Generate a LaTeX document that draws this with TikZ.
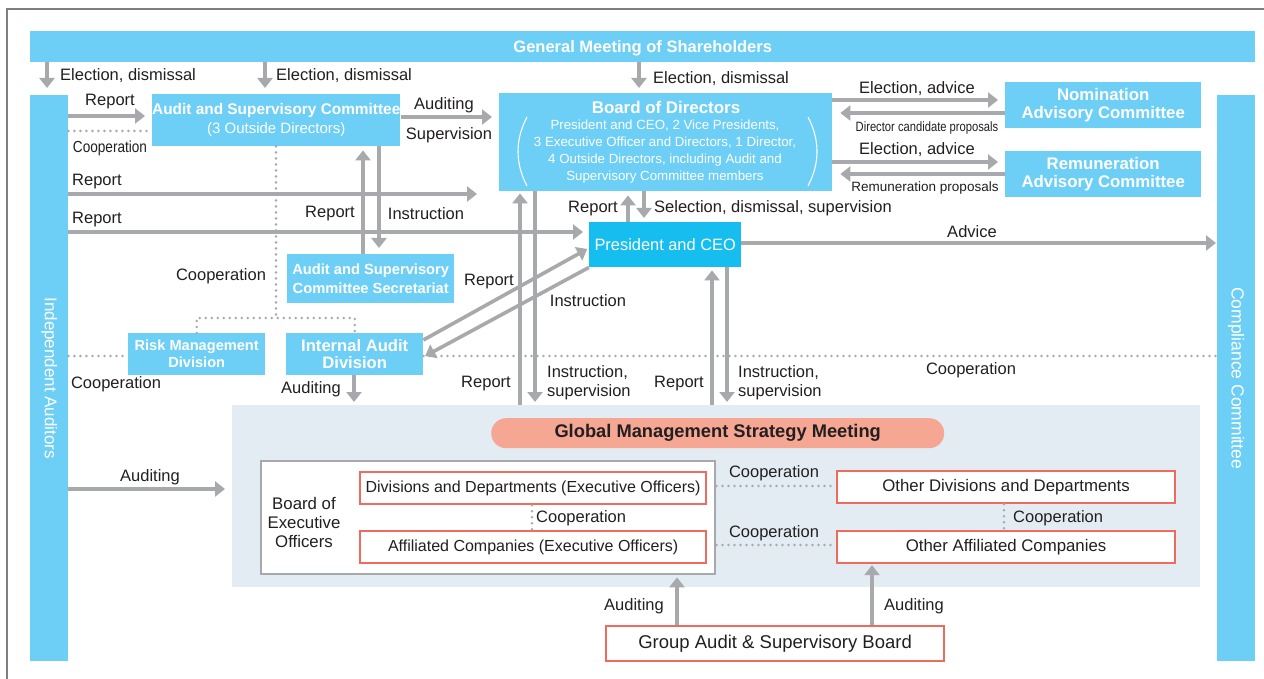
\documentclass[tikz,border=0pt]{standalone}
\usepackage{fontspec}
\setmainfont{Liberation Sans}
\usepackage{graphicx}
\usetikzlibrary{arrows.meta,calc}
\definecolor{cblue}{HTML}{6DCFF6}
\definecolor{cceo}{HTML}{16BEF0}
\definecolor{cgray}{HTML}{A7A9AC}
\definecolor{cbg}{HTML}{E3ECF2}
\definecolor{csalmon}{HTML}{F5A793}
\definecolor{cred}{HTML}{EF6B5E}
\definecolor{ctext}{HTML}{231F20}
\definecolor{cframe}{HTML}{7F7F7F}
\newcommand\fz[2]{\fontsize{#1}{#2}\selectfont}
\begin{document}
\begin{tikzpicture}[x=1pt,y=-1pt,
  box/.style={fill=cblue, text=white, inner sep=0pt, align=center, anchor=north west},
  rbox/.style={draw=cred, line width=2.2pt, fill=white, text=ctext, inner sep=0pt, anchor=north west, font=\fz{16pt}{19pt}},
  lbl/.style={text=ctext, inner sep=0pt, font=\fz{16.5pt}{19pt}, align=center, yshift=-1.5pt},
  arr/.style={draw=cgray, line width=3.6pt, -{Triangle[length=10pt,width=15pt]}},
  dots/.style={draw=cgray, line width=2.8pt, dash pattern=on 0pt off 6pt, line cap=round},
]
\useasboundingbox (0,0) rectangle (1264,679);
\fill[white] (0,0) rectangle (1264,679);
\draw[cframe, line width=1.6pt] (7,700) -- (7,9) -- (1300,9);

% ---------- boxes ----------
\node[box, minimum width=1225, minimum height=31, font=\bfseries\fz{16.5pt}{19pt}, text depth=1pt] (gms) at (30,31) {General Meeting of Shareholders};
\node[box, minimum width=38, minimum height=566] (ia) at (30,95) {};
\node[rotate=-90, text=white, inner sep=0pt, font=\fz{17pt}{19pt}] (iat) at (ia.center) {Independent Auditors};
\node[box, minimum width=38, minimum height=566] (cc) at (1217,95) {};
\node[rotate=-90, text=white, inner sep=0pt, font=\fz{17.5pt}{19pt}] (cct) at (cc.center) {Compliance Committee};

\node[box, minimum width=248, minimum height=52, font=\fz{15pt}{19pt}] (asc) at (152,94) {{\bfseries\fz{15.4pt}{19pt}Audit and Supervisory Committee}\\(3 Outside Directors)};

\node[box, minimum width=333, minimum height=98] (bod) at (499,93) {};
\node[text=white, inner sep=0pt, font=\bfseries\fz{16.9pt}{19pt}] (bodt) at (666,107) {Board of Directors};
\node[text=white, inner sep=0pt, align=center, font=\fz{13.3pt}{17pt}] (bods) at (665,152) {President and CEO, 2 Vice Presidents,\\3 Executive Officer and Directors, 1 Director,\\4 Outside Directors, including Audit and\\Supervisory Committee members};
\draw[white, line width=1.1pt] (527,117) .. controls (515,140) and (515,163) .. (527,186);
\draw[white, line width=1.1pt] (808,117) .. controls (820,140) and (820,163) .. (808,186);

\node[box, minimum width=196, minimum height=46, font=\bfseries\fz{16.8pt}{18pt}] (nom) at (1005,82) {Nomination\\Advisory Committee};
\node[box, minimum width=196, minimum height=46, font=\bfseries\fz{16.8pt}{18pt}] (rem) at (1005,151) {Remuneration\\Advisory Committee};

\node[box, minimum width=167, minimum height=49, font=\bfseries\fz{14.7pt}{19pt}] (sec) at (287,254) {Audit and Supervisory\\Committee Secretariat};
\node[box, minimum width=137, minimum height=42, font=\bfseries\fz{14.6pt}{17pt}] (risk) at (128,333) {Risk Management\\Division};
\node[box, minimum width=137, minimum height=42, font=\bfseries\fz{16.6pt}{17pt}] (iad) at (286,333) {Internal Audit\\Division};
\node[box, fill=cceo, minimum width=152, minimum height=45, font=\fz{16.4pt}{19pt}] (ceo) at (589,222) {President and CEO};

\node[fill=cbg, inner sep=0pt, anchor=north west, minimum width=968, minimum height=182] (gbg) at (232,405) {};
\node[fill=csalmon, rounded corners=15pt, inner sep=0pt, anchor=north west, minimum width=453, minimum height=30, text=ctext, font=\bfseries\fz{18.3pt}{20pt}] (gmsm) at (491,418) {Global Management Strategy Meeting};

\node[draw=cgray, line width=2.4pt, fill=white, inner sep=0pt, anchor=north west, minimum width=454, minimum height=113] (beo) at (260,460) {};
\node[lbl, font=\fz{16.8pt}{19pt}] (beot) at (304,521) {Board of\\Executive\\Officers};
\node[rbox, minimum width=346, minimum height=32] (dd) at (359,471) {Divisions and Departments (Executive Officers)};
\node[rbox, minimum width=346, minimum height=32] (ac) at (359,530) {Affiliated Companies (Executive Officers)};
\node[rbox, minimum width=338, minimum height=32, font=\fz{16.8pt}{19pt}] (odd) at (836,470) {Other Divisions and Departments};
\node[rbox, minimum width=338, minimum height=32, font=\fz{16.8pt}{19pt}] (oac) at (836,530) {Other Affiliated Companies};
\node[rbox, minimum width=338, minimum height=35, font=\fz{18.5pt}{20pt}] (gasb) at (605,625) {Group Audit \& Supervisory Board};

% ---------- connectors ----------
% election
\draw[arr, shorten >=7pt] (gms.south -| 47,0) -- (ia.north -| 47,0);
\draw[arr, shorten >=6pt] (gms.south -| 265,0) -- (asc.north -| 265,0);
\draw[arr, shorten >=5pt] (gms.south -| 639,0) -- (bod.north -| 639,0);
\node[lbl, anchor=west] (e1) at (60,74) {Election, dismissal};
\node[lbl, anchor=west] (e2) at (276,74) {Election, dismissal};
\node[lbl, anchor=west] (e3) at (653,77) {Election, dismissal};

% IA to ASC
\draw[arr, shorten >=7pt] (ia.east |- 0,116) -- (asc.west |- 0,116);
\node[lbl] (r1) at (110,100) {Report};
\draw[dots] (ia.east |- 0,131) -- (asc.west |- 0,131);
\node[lbl, font=\fz{16pt}{19pt}] (c1) at (110,147) {\scalebox{0.85}[1]{Cooperation}};

% ASC to BoD
\draw[arr, shorten >=7pt] (asc.east |- 0,117) -- (bod.west |- 0,117);
\node[lbl] (a1) at (444,104) {Auditing};
\node[lbl] (s1) at (449,134) {Supervision};

% BoD <-> committees
\draw[arr, shorten >=7pt] (bod.east |- 0,100) -- (nom.west |- 0,100);
\draw[arr, shorten >=8pt] (nom.west |- 0,113) -- (bod.east |- 0,113);
\node[lbl] (ea1) at (917,87) {Election, advice};
\node[lbl, font=\fz{13.5pt}{16pt}] (dcp) at (927,127) {\scalebox{0.83}[1]{Director candidate proposals}};
\draw[arr, shorten >=7pt] (bod.east |- 0,162) -- (rem.west |- 0,162);
\draw[arr, shorten >=8pt] (rem.west |- 0,174) -- (bod.east |- 0,174);
\node[lbl] (ea2) at (917,148) {Election, advice};
\node[lbl, font=\fz{13.5pt}{16pt}] (rp) at (925,187) {Remuneration proposals};

% IA long reports
\draw[arr, shorten >=22pt] (ia.east |- 0,194) -- (bod.west |- 0,194);
\node[lbl] (r2) at (97,180) {Report};
\draw[arr, shorten >=6pt] (ia.east |- 0,232) -- (ceo.west |- 0,232);
\node[lbl] (r3) at (97,218) {Report};

% ASC <-> Secretariat
\draw[arr, shorten >=4pt] (sec.north -| 363,0) -- (asc.south -| 363,0);
\draw[arr, shorten >=6pt] (asc.south -| 379,0) -- (sec.north -| 379,0);
\node[lbl] (r4) at (330,212) {Report};
\node[lbl] (i1) at (426,212) {Instruction};

% cooperation tree
\coordinate (cj) at (276,318);
\draw[dots] (asc.south -| cj) -- (cj);
\draw[dots] (risk.north) |- (cj) -| (iad.north);
\node[lbl] (c2) at (221,275) {Cooperation};

% long cooperation line
\draw[dots] (ia.east |- 0,356) -- (risk.west |- 0,356);
\draw[dots] (iad.east |- 0,356) -- (cc.west |- 0,356);
\node[lbl] (c3) at (116,383) {Cooperation};
\node[lbl] (c4) at (971,369) {Cooperation};

% IAD auditing
\draw[arr, shorten >=3pt] (iad.south -| 354,0) -- (gbg.north -| 354,0);
\node[lbl] (a2) at (311,388) {Auditing};

% IAD <-> CEO diagonals
\draw[arr, shorten >=2pt] (iad.east |- 0,340) -- (ceo.west |- 0,248);
\draw[arr, shorten >=2pt] (ceo.south west) -- (iad.east |- 0,357);
\node[lbl] (r5) at (489,280) {Report};
\node[lbl] (i2) at (588,299) {Instruction};

% CEO <-> BoD
\draw[arr, shorten >=4pt] (ceo.north -| 628,0) -- (bod.south -| 628,0);
\draw[arr, shorten >=4pt] (bod.south -| 644,0) -- (ceo.north -| 644,0);
\node[lbl] (r6) at (593,207) {Report};
\node[lbl, anchor=west] (sds) at (654,207) {Selection, dismissal, supervision};

% Advice
\draw[arr, shorten >=1pt] (ceo.east |- 0,243) -- (cc.west |- 0,243);
\node[lbl] (adv) at (972,230) {Advice};

% GMSM <-> BoD
\draw[arr, shorten >=2pt] (gbg.north -| 520,0) -- (bod.south -| 520,0);
\draw[arr, shorten >=3pt] (bod.south -| 535,0) -- (gbg.north -| 535,0);
\node[lbl] (r7) at (486,382) {Report};
\node[lbl, anchor=west, align=left] (is1) at (547,381) {Instruction,\\supervision};

% GMSM <-> CEO
\draw[arr, shorten >=3pt] (gbg.north -| 712,0) -- (ceo.south -| 712,0);
\draw[arr, shorten >=3pt] (ceo.south -| 727,0) -- (gbg.north -| 727,0);
\node[lbl] (r8) at (679,382) {Report};
\node[lbl, anchor=west, align=left] (is2) at (738,381) {Instruction,\\supervision};

% IA auditing
\draw[arr, shorten >=7pt] (ia.east |- 0,489) -- (gbg.west |- 0,489);
\node[lbl] (a3) at (150,476) {Auditing};

% inner cooperation
\draw[dots] (dd.south -| 532,0) -- (ac.north -| 532,0);
\node[lbl, anchor=west] (c5) at (536,517) {Cooperation};
\draw[dots] (odd.south -| 1004,0) -- (oac.north -| 1004,0);
\node[lbl, anchor=west] (c6) at (1013,517) {Cooperation};
\draw[dots] (beo.east |- 0,486) -- (odd.west |- 0,486);
\draw[dots] (beo.east |- 0,545) -- (oac.west |- 0,545);
\node[lbl] (c7) at (774,472) {Cooperation};
\node[lbl] (c8) at (774,532) {Cooperation};

% group audit
\draw[arr, shorten >=2pt] (gasb.north -| 677,0) -- (beo.south -| 677,0);
\draw[arr, shorten >=1pt] (gasb.north -| 872,0) -- (oac.south -| 872,0);
\node[lbl] (a4) at (634,605) {Auditing};
\node[lbl] (a5) at (914,605) {Auditing};
\end{tikzpicture}
\end{document}
